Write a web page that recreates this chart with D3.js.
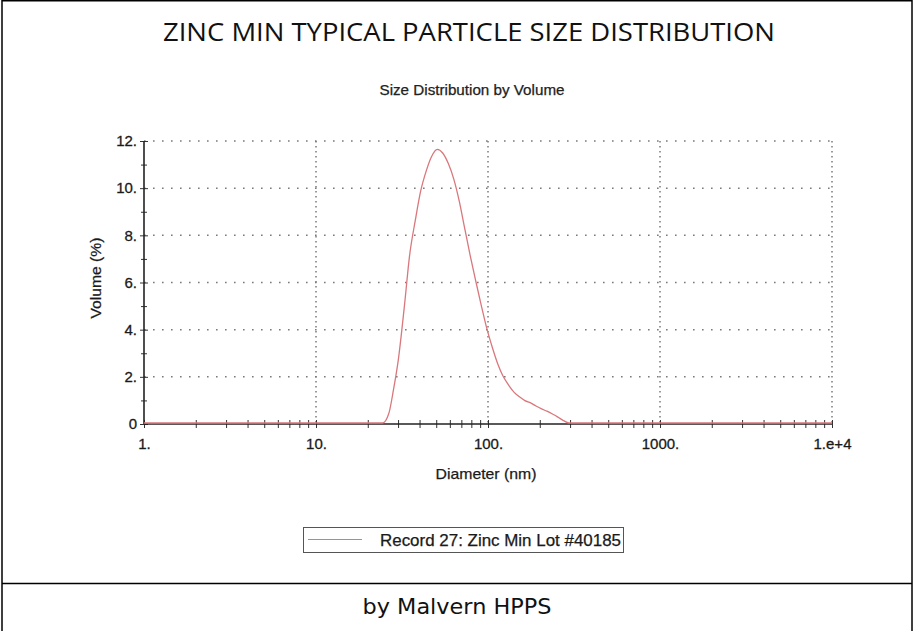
<!DOCTYPE html>
<html>
<head>
<meta charset="utf-8">
<script src="https://cdn.jsdelivr.net/npm/d3@7"></script>
<style>
  html, body { margin: 0; padding: 0; background: #fff; }
  svg { display: block; }
</style>
</head>
<body>
<script>
// ---- data ----
const pageTitle = "ZINC MIN TYPICAL PARTICLE SIZE DISTRIBUTION";
const chartTitle = "Size Distribution by Volume";
const footer = "by Malvern HPPS";
const xLabel = "Diameter (nm)";
const yLabel = "Volume (%)";
const seriesName = "Record 27: Zinc Min Lot #40185";

const diameters = [1, 10, 20, 24.4, 26.5, 28.2, 30.0, 32.7, 35.0, 37.8, 40.5, 43.8, 47.0, 50.7, 54.5, 58.8, 63.5, 68.1, 73.0, 78.8, 85.0, 91.3, 98.5, 106, 114, 122, 132, 142, 153, 164, 177, 190, 205, 220, 237, 255, 275, 295, 1000, 10000];
const volumes   = [0, 0, 0, 0, 0.4, 1.4, 2.6, 5.0, 7.1, 8.6, 9.8, 10.7, 11.3, 11.6, 11.45, 11.0, 10.3, 9.4, 8.3, 7.1, 6.0, 5.0, 4.0, 3.2, 2.5, 2.0, 1.6, 1.3, 1.1, 0.95, 0.85, 0.72, 0.6, 0.5, 0.38, 0.25, 0.1, 0, 0, 0];

const xMajorTicks = [1, 10, 100, 1000, 10000];
const xTickLabels = ["1.", "10.", "100.", "1000.", "1.e+4"];
const yMajorTicks = [0, 2, 4, 6, 8, 10, 12];
const yTickLabels = ["0", "2.", "4.", "6.", "8.", "10.", "12."];
const yMinorTicks = [1, 3, 5, 7, 9, 11];

// ---- layout ----
const W = 914, H = 631;
const svg = d3.select("body").append("svg").attr("width", W).attr("height", H);

const x = d3.scaleLog().domain([1, 10000]).range([144, 832]);
const y = d3.scaleLinear().domain([0, 12]).range([424, 141]);

const font = "'Liberation Sans', Arial, sans-serif";
const textInk = "#1a1a1a";

// outer frame
svg.append("rect").attr("x", 2).attr("y", 0.75).attr("width", 910).attr("height", H + 10)
  .attr("fill", "none").attr("stroke", "#000").attr("stroke-width", 1.5);
svg.append("line").attr("x1", 2).attr("x2", 912).attr("y1", 583.5).attr("y2", 583.5)
  .attr("stroke", "#000").attr("stroke-width", 1.3);

// page title
svg.append("text").attr("x", 469).attr("y", 41).attr("text-anchor", "middle")
  .attr("font-family", "'Open Sans', 'Liberation Sans', sans-serif").attr("font-size", 25).attr("fill", "#111")
  .attr("textLength", 612).attr("lengthAdjust", "spacingAndGlyphs")
  .text(pageTitle);

// footer
svg.append("text").attr("x", 457).attr("y", 614).attr("text-anchor", "middle")
  .attr("font-family", "'DejaVu Sans', sans-serif").attr("font-size", 21).attr("fill", "#111")
  .attr("textLength", 189).attr("lengthAdjust", "spacingAndGlyphs")
  .text(footer);

// chart title
svg.append("text").attr("x", 472).attr("y", 95).attr("text-anchor", "middle")
  .attr("font-family", font).attr("font-size", 14).attr("fill", "#222")
  .attr("stroke", "#222").attr("stroke-width", 0.25)
  .attr("textLength", 185).attr("lengthAdjust", "spacingAndGlyphs")
  .text(chartTitle);

// grid
const gridColor = "#7a7a7a";
const g = svg.append("g");
g.selectAll(".hgrid").data(yMajorTicks.filter(d => d > 0)).enter().append("line")
  .attr("x1", x(1)).attr("x2", x(10000))
  .attr("y1", d => y(d)).attr("y2", d => y(d))
  .attr("stroke", gridColor).attr("stroke-width", 1.5).attr("stroke-dasharray", "1.6,7.4");
g.selectAll(".vgrid").data(xMajorTicks.filter(d => d > 1)).enter().append("line")
  .attr("x1", d => x(d)).attr("x2", d => x(d))
  .attr("y1", y(12)).attr("y2", y(0))
  .attr("stroke", gridColor).attr("stroke-width", 1.5).attr("stroke-dasharray", "1.5,3.5");

// x minor ticks (crossing the axis)
const xMinor = [];
for (let dec = 1; dec < 10000; dec *= 10) for (let m = 2; m <= 9; m++) xMinor.push(dec * m);
svg.append("g").attr("transform", `translate(0,${y(0) - 4})`)
  .call(d3.axisBottom(x).tickValues(xMinor).tickSize(8).tickFormat(""))
  .call(s => s.select(".domain").remove())
  .call(s => s.selectAll("line").attr("stroke", "#333").attr("stroke-width", 1));
svg.append("g").attr("transform", `translate(0,${y(0) - 4})`)
  .call(d3.axisBottom(x).tickValues(xMajorTicks).tickSize(8).tickFormat(""))
  .call(s => s.select(".domain").remove())
  .call(s => s.selectAll("line").attr("stroke", "#333").attr("stroke-width", 1));

// y minor ticks
svg.append("g").attr("transform", `translate(${x(1) - 3},0)`)
  .call(d3.axisRight(y).tickValues(yMinorTicks).tickSize(6).tickFormat(""))
  .call(s => s.select(".domain").remove())
  .call(s => s.selectAll("line").attr("stroke", "#333").attr("stroke-width", 1));
svg.append("g").attr("transform", `translate(${x(1) - 4},0)`)
  .call(d3.axisRight(y).tickValues(yMajorTicks).tickSize(8).tickFormat(""))
  .call(s => s.select(".domain").remove())
  .call(s => s.selectAll("line").attr("stroke", "#333").attr("stroke-width", 1));

// x axis labels
svg.append("g").attr("transform", `translate(0,${y(0)})`)
  .call(d3.axisBottom(x).tickValues(xMajorTicks).tickSize(0).tickPadding(14)
    .tickFormat((d, i) => xTickLabels[i]))
  .call(s => s.select(".domain").remove())
  .call(s => s.selectAll("text").attr("font-family", font).attr("font-size", 15)
    .attr("fill", textInk).attr("stroke", textInk).attr("stroke-width", 0.3));

// y axis labels
svg.append("g").attr("transform", `translate(${x(1)},0)`)
  .call(d3.axisLeft(y).tickValues(yMajorTicks).tickSize(0).tickPadding(7)
    .tickFormat((d, i) => yTickLabels[i]))
  .call(s => s.select(".domain").remove())
  .call(s => s.selectAll("text").attr("font-family", font).attr("font-size", 15)
    .attr("fill", textInk).attr("stroke", textInk).attr("stroke-width", 0.3));

// axis lines
svg.append("line").attr("x1", x(1)).attr("x2", x(10000)).attr("y1", y(0)).attr("y2", y(0))
  .attr("stroke", "#222").attr("stroke-width", 1.6);
svg.append("line").attr("x1", x(1)).attr("x2", x(1)).attr("y1", y(12)).attr("y2", y(0))
  .attr("stroke", "#222").attr("stroke-width", 1.6);

// axis titles
svg.append("text").attr("x", 486).attr("y", 479).attr("text-anchor", "middle")
  .attr("font-family", font).attr("font-size", 15).attr("fill", textInk)
  .attr("stroke", textInk).attr("stroke-width", 0.25)
  .attr("textLength", 101).attr("lengthAdjust", "spacingAndGlyphs")
  .text(xLabel);
svg.append("text").attr("transform", "translate(101,278) rotate(-90)").attr("text-anchor", "middle")
  .attr("font-family", font).attr("font-size", 15).attr("fill", textInk)
  .attr("stroke", textInk).attr("stroke-width", 0.25)
  .attr("textLength", 81).attr("lengthAdjust", "spacingAndGlyphs")
  .text(yLabel);

// series line
const data = diameters.map((d, i) => ({ d, v: volumes[i] }));
const line = d3.line().x(p => x(p.d)).y(p => y(p.v) - 1).curve(d3.curveMonotoneX);
svg.append("path").datum(data).attr("d", line)
  .attr("fill", "none").attr("stroke", "#d9787c").attr("stroke-width", 1.3);

// legend
const lg = svg.append("g");
lg.append("rect").attr("x", 303.5).attr("y", 527.5).attr("width", 320).attr("height", 25)
  .attr("fill", "#fff").attr("stroke", "#555").attr("stroke-width", 1);
lg.append("line").attr("x1", 308).attr("x2", 362).attr("y1", 539.5).attr("y2", 539.5)
  .attr("stroke", "#d9787c").attr("stroke-width", 1.2);
lg.append("text").attr("x", 621).attr("y", 546).attr("text-anchor", "end")
  .attr("font-family", font).attr("font-size", 16).attr("fill", textInk)
  .attr("stroke", textInk).attr("stroke-width", 0.25)
  .attr("textLength", 241).attr("lengthAdjust", "spacingAndGlyphs")
  .text(seriesName);
</script>
</body>
</html>
